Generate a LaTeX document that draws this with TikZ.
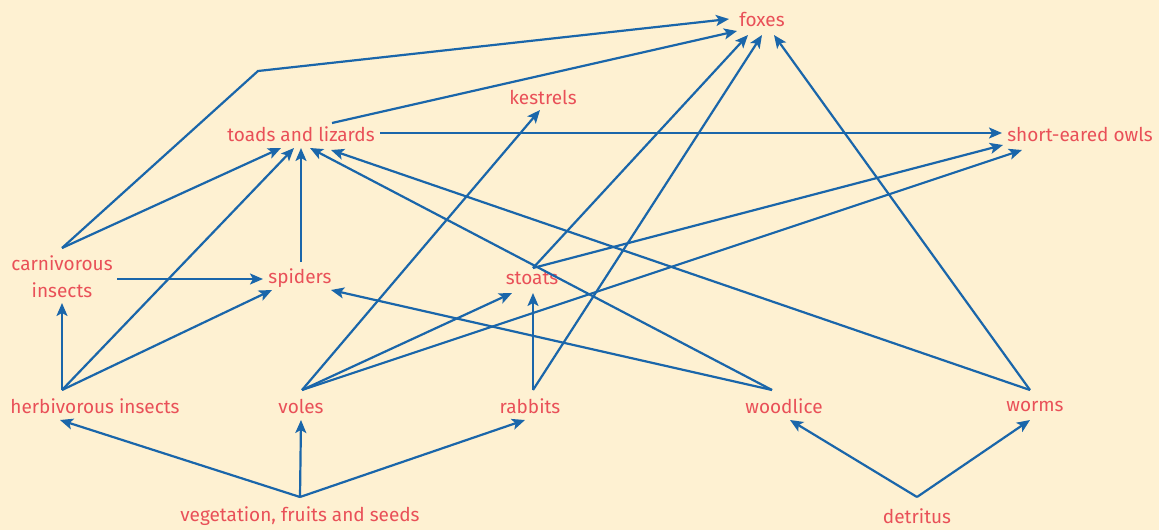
\documentclass[tikz,border=0pt]{standalone}
\usepackage{fontspec}
\setmainfont{Fira Sans}
\usetikzlibrary{arrows.meta,calc}
\definecolor{bgc}{RGB}{254,241,210}
\definecolor{txtc}{RGB}{233,80,88}
\definecolor{arrc}{RGB}{26,102,170}
\tikzset{
  sp/.style={text=txtc,font=\fontsize{19}{27}\selectfont,inner sep=0pt,anchor=center,align=center},
  link/.style={draw=arrc,line width=2.2pt,-{Stealth[length=13pt,width=11pt,inset=3pt]}},
  seg/.style={draw=arrc,line width=2.2pt}
}
\begin{document}
\begin{tikzpicture}[x=1pt,y=-1pt]
\fill[bgc] (0,0) rectangle (1159,530);
\useasboundingbox (0,0) rectangle (1159,530);
\node[sp] (foxes) at (762,19) {foxes};
\node[sp] (kestrels) at (543,97) {kestrels};
\node[sp] (toads) at (301,134) {toads and lizards};
\node[sp] (owls) at (1080,134) {short-eared owls};
\node[sp] (carn) at (62,277) {carnivorous\\insects};
\node[sp] (spiders) at (300,278) {spiders};
\node[sp] (stoats) at (532,278) {stoats};
\node[sp] (herb) at (95,406) {herbivorous insects};
\node[sp] (voles) at (301,406) {voles};
\node[sp] (rabbits) at (530,406) {rabbits};
\node[sp] (woodlice) at (784,406) {woodlice};
\node[sp] (worms) at (1035,406) {worms};
\node[sp] (veg) at (300,516) {vegetation, fruits and seeds};
\node[sp] (detritus) at (917,516) {detritus};
\coordinate (bend) at (258,71);
% carnivorous insects
\draw[link] ($(carn)+(0,-29)$) -- (bend) -- ($(foxes)+(-33,0)$);
\draw[link] ($(carn)+(0,-29)$) -- ($(toads)+(-20,14)$);
\draw[link] ($(carn)+(55,2)$) -- ($(spiders)+(-37,1)$);
% toads
\draw[link] ($(toads)+(31,-11)$) -- ($(foxes)+(-25,12)$);
\draw[link] ($(toads)+(79,-1)$) -- ($(owls)+(-78,-1)$);
% herbivorous insects
\draw[link] ($(herb)+(-33,-16)$) -- ($(toads)+(-7,14)$);
\draw[link] ($(herb)+(-33,-16)$) -- ($(spiders)+(-28,12)$);
\draw[link] ($(herb)+(-33,-16)$) -- ($(carn)+(0,26)$);
% spiders
\draw[link] ($(spiders)+(1,-16)$) -- ($(toads)+(0,14)$);
% woodlice
\draw[link] ($(woodlice)+(-12,-16)$) -- ($(toads)+(9,14)$);
\draw[link] ($(woodlice)+(-12,-16)$) -- ($(spiders)+(31,12)$);
% worms
\draw[link] ($(worms)+(-5,-16)$) -- ($(toads)+(30,16)$);
\draw[link] ($(worms)+(-5,-16)$) -- ($(foxes)+(12,16)$);
% voles
\draw[link] ($(voles)+(1,-16)$) -- ($(kestrels)+(-3,13)$);
\draw[link] ($(voles)+(1,-16)$) -- ($(stoats)+(-20,15)$);
\draw[link] ($(voles)+(1,-16)$) -- ($(owls)+(-58,16)$);
% stoats
\draw[link] ($(stoats)+(1,-10)$) -- ($(foxes)+(-14,16)$);
\draw[link] ($(stoats)+(1,-10)$) -- ($(owls)+(-77,11)$);
% rabbits
\draw[link] ($(rabbits)+(3,-16)$) -- ($(stoats)+(1,15)$);
\draw[link] ($(rabbits)+(3,-16)$) -- ($(foxes)+(0,16)$);
% vegetation
\draw[link] ($(veg)+(0,-19)$) -- ($(herb)+(-35,14)$);
\draw[link] ($(veg)+(0,-19)$) -- ($(voles)+(0,14)$);
\draw[link] ($(veg)+(0,-19)$) -- ($(rabbits)+(-5,14)$);
% detritus
\draw[link] ($(detritus)+(0,-19)$) -- ($(woodlice)+(6,14)$);
\draw[link] ($(detritus)+(0,-19)$) -- ($(worms)+(-5,14)$);
\end{tikzpicture}
\end{document}
